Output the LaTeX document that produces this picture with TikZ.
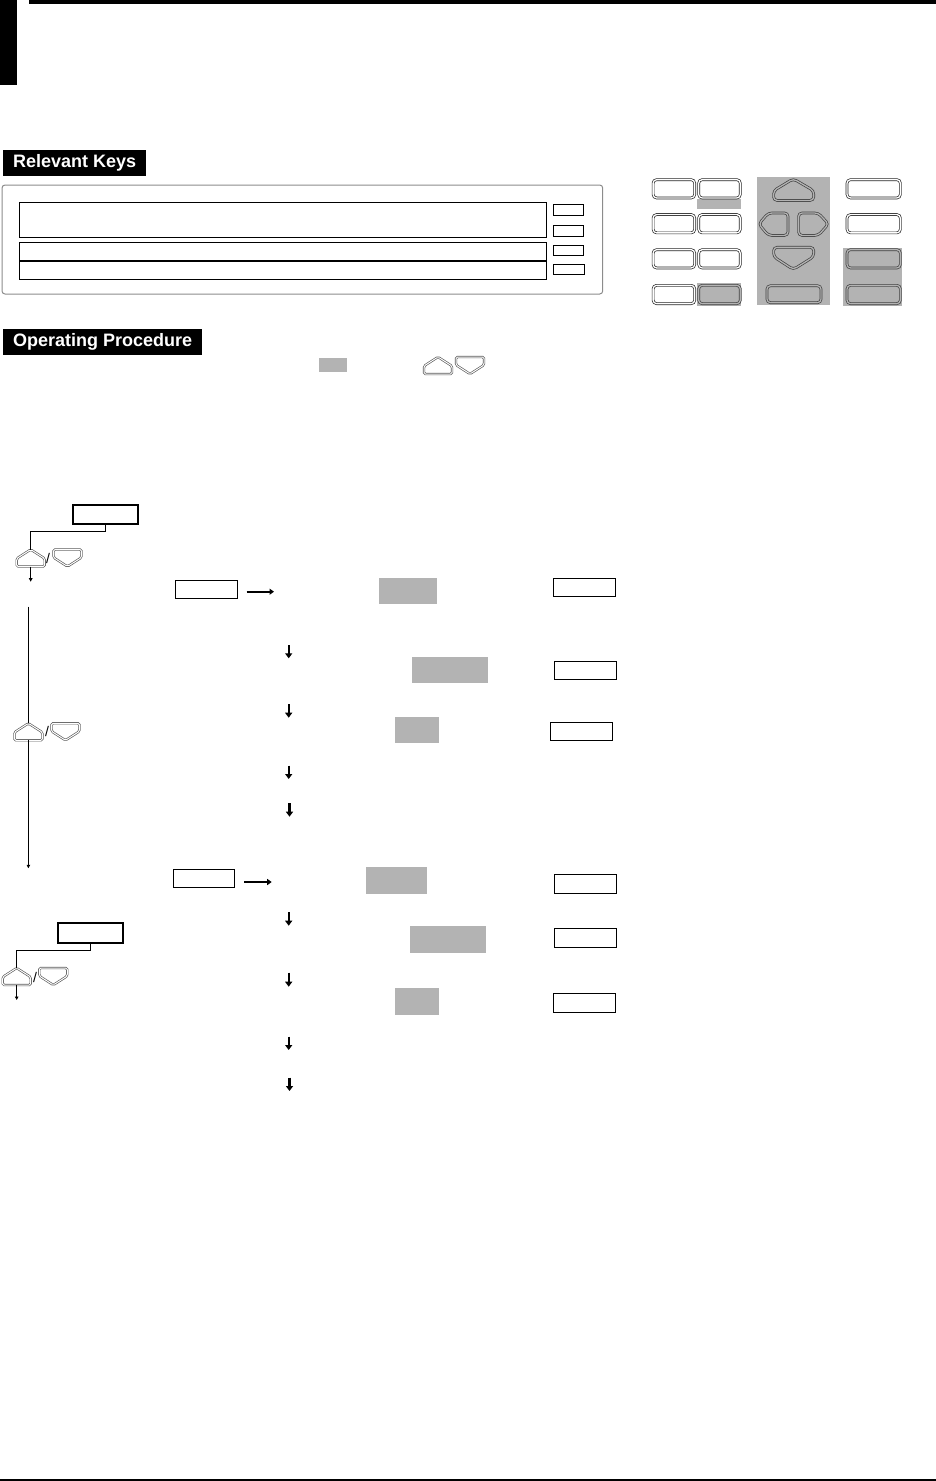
\documentclass[tikz,border=0pt]{standalone}
\usepackage{fontspec}
\usetikzlibrary{positioning,arrows.meta}
\newfontfamily\headfont{Liberation Sans}
\definecolor{keygray}{RGB}{179,179,179}

\tikzset{
  hdlabel/.style={fill=black,text=white,anchor=north west,inner xsep=10pt,
    minimum height=26pt,font=\headfont\bfseries\fontsize{18}{18}\selectfont},
  panel/.style={draw=black!45,line width=1pt,rounded corners=3pt},
  field/.style={draw,line width=1pt,anchor=north west},
  keyw/.style={draw=black!85,fill=white,double=white,line width=0.7pt,
    double distance=1.3pt,rounded corners=3.5pt},
  keyg/.style={keyw,draw=black!75,fill=keygray,double=keygray},
  smallkey/.style={draw=black!65,double=white,fill=white,line width=0.65pt,
    double distance=1pt,rounded corners=1.5pt},
  hl/.style={fill=keygray,anchor=north west},
  selbox/.style={draw,line width=1.8pt,anchor=north west},
  disp/.style={draw,line width=1pt,anchor=north west},
  link/.style={line width=1pt},
  smallarr/.style={line width=1pt,-{Triangle[length=3.5pt,width=3.5pt]}},
  flowarr/.style={line width=2.4pt,-{Triangle[length=4.5pt,width=6pt]}},
  dnarr/.style={line width=2.4pt,-{Triangle[length=5pt,width=7pt]}},
  slash/.style={font=\headfont\fontsize{14}{14}\selectfont},
  upkey/.pic={
    \draw[smallkey] (0,17) -- (0,9) -- (14,0) -- (28,9) -- (28,17) -- cycle;
    \coordinate (-top) at (14,0);
    \coordinate (-bot) at (14,17);
  },
  dnkey/.pic={
    \draw[smallkey] (0,0) -- (28,0) -- (28,8) -- (14,17) -- (0,8) -- cycle;
  },
}

\begin{document}
\begin{tikzpicture}[x=1pt,y=-1pt,every node/.append style={inner sep=0pt}]
  \useasboundingbox (0,0) rectangle (936,1481);
  % page furniture
  \fill (0,0) rectangle (17,85);
  \fill (29,0) rectangle (936,4);
  \draw[line width=1.2pt] (0,1480) -- (936,1480);

  % relevant keys
  \node[hdlabel] (relkeys) at (3,150) {Relevant Keys};
  \draw[panel] (2,185) rectangle (602.7,294);
  \node[field,minimum width=527.4pt,minimum height=35.6pt] (fldA) at (18.6,201.7) {};
  \node[field,minimum width=527.4pt,minimum height=18.3pt] (fldB) at (18.6,241.7) {};
  \node[field,minimum width=527.4pt,minimum height=18.3pt,below=0pt of fldB] (fldC) {};
  \node[field,minimum width=30.3pt,minimum height=10.7pt] (tbA) at (552.7,204.3) {};
  \node[field,minimum width=30.3pt,minimum height=10.7pt] (tbB) at (552.7,225) {};
  \node[field,minimum width=30.3pt,minimum height=9.5pt] (tbC) at (552.7,245) {};
  \node[field,minimum width=31pt,minimum height=10pt] (tbD) at (552.7,264.3) {};

  % key panel
  \fill[keygray] (696.7,199.3) rectangle (741,209);
  \fill[keygray] (696.7,283.3) rectangle (741,305.5);
  \fill[keygray] (756.7,176.7) rectangle (830,305);
  \fill[keygray] (842.7,248.3) rectangle (902.3,305.7);
  \node[keyw,minimum width=41.6pt,minimum height=18.3pt] (kA1) at (673.9,188.8) {};
  \node[keyw,minimum width=41.6pt,minimum height=18.3pt] (kB1) at (719.5,188.8) {};
  \node[keyw,minimum width=41.6pt,minimum height=18.3pt] (kA2) at (673.9,223.7) {};
  \node[keyw,minimum width=41.6pt,minimum height=18.3pt] (kB2) at (719.5,223.7) {};
  \node[keyw,minimum width=41.6pt,minimum height=18.3pt] (kA3) at (673.9,258.8) {};
  \node[keyw,minimum width=41.6pt,minimum height=18.3pt] (kB3) at (719.5,258.8) {};
  \node[keyw,minimum width=41.6pt,minimum height=18.3pt] (kA4) at (673.9,294.5) {};
  \node[keyg,minimum width=41.6pt,minimum height=18.3pt] (kB4) at (719.5,294.5) {};
  \draw[keyg] (773.6,200.4) -- (773.6,190.7) -- (793.3,178.8) -- (813.7,190.7) -- (813.7,200.4) -- cycle;
  \draw[keyg] (788,213) -- (768.3,213) -- (758.8,224) -- (768.3,235.4) -- (788,235.4) -- cycle;
  \draw[keyg] (798.6,213) -- (818.3,213) -- (828.5,224) -- (818.3,235.4) -- (798.6,235.4) -- cycle;
  \draw[keyg] (773.6,247.3) -- (813.7,247.3) -- (813.7,256.7) -- (793.3,269.5) -- (773.6,256.7) -- cycle;
  \node[keyg,minimum width=54pt,minimum height=17pt] (kEnt) at (794,294.2) {};
  \node[keyw,minimum width=53.3pt,minimum height=18.3pt] (kC1) at (873.7,188.8) {};
  \node[keyw,minimum width=53.3pt,minimum height=18.3pt] (kC2) at (873.7,223.7) {};
  \node[keyg,minimum width=53.3pt,minimum height=18.3pt] (kC3) at (873.7,258.8) {};
  \node[keyg,minimum width=53.3pt,minimum height=18.3pt] (kC4) at (873.7,294.5) {};

  % operating procedure
  \node[hdlabel] (opproc) at (3,329) {Operating Procedure};
  \node[hl,minimum width=28pt,minimum height=14pt] (hlkey) at (319,357.7) {};
  \pic (kupA) at (424,357) {upkey};
  \pic (kdnA) at (456,357) {dnkey};

  % first selection
  \node[selbox,minimum width=65pt,minimum height=19pt] (selA) at (71.7,504.3) {};
  \pic (kupB) at (16.7,549.5) {upkey};
  \node[slash] (slA) at (48,558) {/};
  \pic (kdnB) at (53.5,549.5) {dnkey};
  \draw[link] (selA.south) -- ++(0,6.7) -| (kupB-top);
  \coordinate (endB) at (30.7,581.7);
  \draw[smallarr] (kupB-bot) -- (endB);
  \node[disp,minimum width=61.7pt,minimum height=18.3pt] (dispA) at (175,580) {};
  \coordinate (tipA) at (274,591.7);
  \draw[flowarr] ([xshift=9pt]tipA -| dispA.east) -- (tipA);

  \coordinate (trunkA) at (28.4,606.7);
  \pic (kupC) at (14.4,723.3) {upkey};
  \node[slash] (slC) at (47,731.5) {/};
  \pic (kdnC) at (51.5,723.3) {dnkey};
  \draw[link] (trunkA) -- (kupC-top);
  \coordinate (trunkB) at (28.4,868.3);
  \draw[smallarr] (kupC-bot) -- (trunkB);
  \node[disp,minimum width=61pt,minimum height=18pt] (dispB) at (173.3,869.3) {};
  \coordinate (tipB) at (271.7,882);
  \draw[flowarr] ([xshift=9pt]tipB -| dispB.east) -- (tipB);

  % second selection
  \node[selbox,minimum width=65pt,minimum height=19.4pt] (selB) at (57.3,922.3) {};
  \pic (kupD) at (2.7,968) {upkey};
  \node[slash] (slD) at (35,977) {/};
  \pic (kdnD) at (39.3,968) {dnkey};
  \draw[link] (selB.south) -- ++(0,6.6) -| (kupD-top);
  \coordinate (endD) at (16.7,1000);
  \draw[smallarr] (kupD-bot) -- (endD);

  % settings column
  \node[hl,minimum width=58.4pt,minimum height=26pt] (hlA) at (378.3,577.7) {};
  \node[disp,minimum width=61.4pt,minimum height=17.7pt] (rbA) at (553.3,578.3) {};
  \node[hl,minimum width=75.7pt,minimum height=25.7pt] (hlB) at (412,657) {};
  \node[disp,minimum width=61.4pt,minimum height=18.3pt] (rbB) at (554.3,661) {};
  \node[hl,minimum width=44pt,minimum height=26pt] (hlC) at (395,716.7) {};
  \node[disp,minimum width=61.4pt,minimum height=18pt] (rbC) at (550.3,722.3) {};
  \node[hl,minimum width=61pt,minimum height=26.7pt] (hlD) at (366,867) {};
  \node[disp,minimum width=61.4pt,minimum height=18.3pt] (rbD) at (554.3,874.3) {};
  \node[hl,minimum width=76pt,minimum height=26.7pt] (hlE) at (410,926) {};
  \node[disp,minimum width=61.4pt,minimum height=18.3pt] (rbE) at (554.3,928.3) {};
  \node[hl,minimum width=44pt,minimum height=27pt] (hlF) at (395,988) {};
  \node[disp,minimum width=61.4pt,minimum height=18.3pt] (rbF) at (553.3,993.3) {};

  \draw[dnarr] (288.7,645) -- (288.7,658.3);
  \draw[dnarr] (288.7,704.3) -- (288.7,717.7);
  \draw[dnarr] (288.7,765.7) -- (288.7,779);
  \draw[dnarr] (289.5,803.3) -- (289.5,816.7);
  \draw[dnarr] (288.7,912.3) -- (288.7,925.7);
  \draw[dnarr] (288.7,972.7) -- (288.7,986.7);
  \draw[dnarr] (288.7,1036.7) -- (288.7,1050);
  \draw[dnarr] (289.5,1077.7) -- (289.5,1091);
\end{tikzpicture}
\end{document}
